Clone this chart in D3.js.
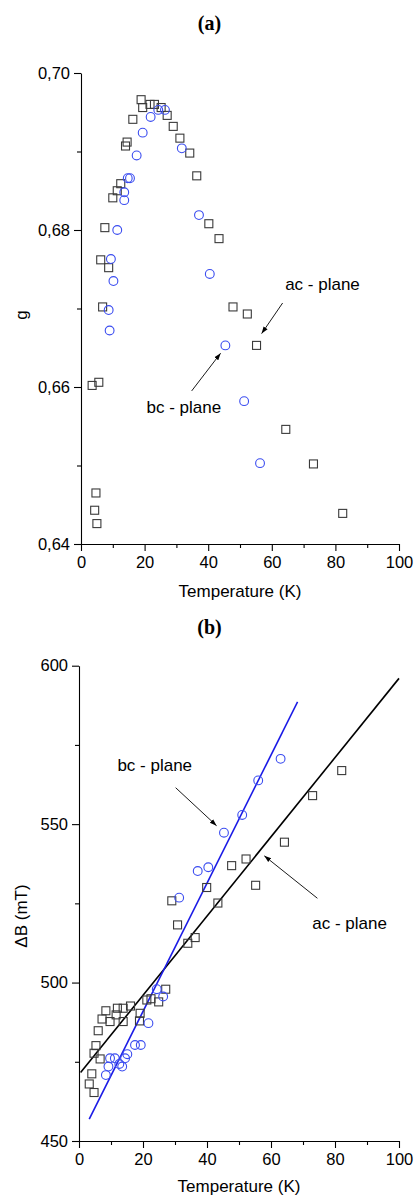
<!DOCTYPE html>
<html>
<head>
<meta charset="utf-8">
<script src="https://cdn.jsdelivr.net/npm/d3@7"></script>
<style>
  html, body { margin: 0; padding: 0; background: #fff; }
  svg { display: block; }
  text { fill: #000; }
</style>
</head>
<body>
<svg id="chart" width="416" height="1196"></svg>
<script>
// ---------- Panel (a): g vs Temperature ----------
const acTa = [18.9, 19.4, 21.7, 23.1, 25.2, 27.1, 16.3, 29.0, 31.1, 14.0, 14.5, 34.2, 36.4, 12.5, 11.4, 10.0, 7.5, 40.2, 43.4, 6.2, 8.7, 6.8, 47.8, 52.3, 55.2, 3.5, 5.6, 64.4, 73.1, 4.7, 4.3, 5.0, 82.3];
const acGa = [0.6966, 0.6956, 0.6960, 0.6960, 0.6956, 0.6946, 0.6941, 0.6932, 0.6917, 0.6907, 0.6912, 0.6898, 0.6869, 0.6859, 0.6850, 0.6841, 0.6803, 0.6808, 0.6789, 0.6762, 0.6752, 0.6702, 0.6702, 0.6693, 0.6653, 0.6602, 0.6606, 0.6546, 0.6502, 0.6465, 0.6443, 0.6426, 0.6439];
const bcTa = [24.3, 26.4, 21.9, 19.4, 17.5, 31.7, 14.7, 15.4, 13.6, 13.6, 11.4, 37.1, 40.5, 9.4, 10.2, 8.7, 9.0, 45.4, 51.3, 56.3];
const bcGa = [0.6953, 0.6953, 0.6944, 0.6924, 0.6895, 0.6904, 0.6866, 0.6866, 0.6848, 0.6838, 0.6800, 0.6819, 0.6744, 0.6763, 0.6735, 0.6698, 0.6672, 0.6653, 0.6582, 0.6503];
const xTicks = [0, 20, 40, 60, 80, 100];
const xMinor = [10, 30, 50, 70, 90];
const gTicks = [0.64, 0.66, 0.68, 0.70];
const gMinor = [0.65, 0.67, 0.69];

// ---------- Panel (b): ΔB vs Temperature ----------
const acTb = [82.1, 73.0, 64.2, 52.2, 47.7, 55.2, 39.9, 29.0, 43.4, 30.8, 36.3, 34.0, 27.1, 24.9, 22.5, 21.2, 19.1, 18.9, 16.1, 13.8, 12.0, 11.6, 13.8, 8.4, 9.7, 7.2, 6.0, 5.3, 4.7, 6.6, 4.0, 3.2, 4.7];
const acBb = [566.9, 559.0, 544.3, 539.0, 536.9, 530.7, 530.0, 525.8, 525.1, 518.2, 514.2, 512.4, 497.9, 493.9, 494.9, 494.5, 490.3, 487.9, 492.6, 491.9, 491.9, 489.8, 487.7, 491.1, 487.7, 488.5, 484.8, 480.1, 477.7, 475.9, 471.2, 468.0, 465.3];
const bcTb = [63.0, 56.0, 51.0, 45.3, 40.4, 37.1, 31.3, 24.3, 26.3, 21.7, 17.5, 19.3, 15.1, 14.4, 13.5, 11.2, 9.7, 9.2, 8.4, 12.6];
const bcBb = [570.6, 563.8, 552.9, 547.3, 536.4, 535.2, 526.8, 497.9, 495.6, 487.2, 480.3, 480.3, 477.4, 476.1, 473.5, 476.1, 476.1, 473.5, 470.8, 474.3];
const fitTac = [0.5, 100];
const fitBac = [471.6, 596.0];
const fitTbc = [3.2, 68.3];
const fitBbc = [456.9, 588.6];
const bTicks = [450, 500, 550, 600];
const bMinor = [475, 525, 575];

// annotations (data coordinates): label, text x, text y, arrow from x,y, arrow to x,y
const annA = [
  ["ac - plane", 64.2, 0.6724, 63.4, 0.6707, 56.8, 0.6668],
  ["bc - plane", 20.6, 0.6567, 34.8, 0.6595, 43.9, 0.6643]
];
const annB = [
  ["bc - plane", 12.0, 566.8, 30.2, 561.5, 43.0, 549.5],
  ["ac - plane", 72.9, 516.9, 74.5, 526.6, 57.9, 540.0]
];

const svg = d3.select("#chart");
const SQ = "#3a3a3a", CI = "#3a4cf0", BL = "#1a1ae6";
const SANS = "Arial, 'Liberation Sans', sans-serif";
const SERIF = "'Liberation Serif', 'Times New Roman', serif";

svg.append("defs").append("marker")
  .attr("id", "arr").attr("viewBox", "0 0 10 10")
  .attr("refX", 10).attr("refY", 5)
  .attr("markerWidth", 7).attr("markerHeight", 7)
  .attr("markerUnits", "userSpaceOnUse")
  .attr("orient", "auto")
  .append("path").attr("d", "M0,1.5 L10,5 L0,8.5 Z").attr("fill", "#000");

function drawPanel(o) {
  const g = svg.append("g");
  const x = d3.scaleLinear().domain([0, 100]).range(o.xr);
  const y = d3.scaleLinear().domain(o.yd).range(o.yr);

  // axes
  g.append("g").attr("transform", `translate(0,${o.yr[0]})`)
    .call(d3.axisBottom(x).tickValues(xTicks).tickSize(7).tickSizeOuter(0).tickPadding(5).tickFormat(d3.format("d")));
  g.append("g").attr("transform", `translate(0,${o.yr[0]})`)
    .call(d3.axisBottom(x).tickValues(xMinor).tickSize(4).tickSizeOuter(0).tickFormat(""))
    .select(".domain").remove();
  g.append("g").attr("transform", `translate(${o.xr[0]},0)`)
    .call(d3.axisLeft(y).tickValues(o.yt).tickSize(7).tickSizeOuter(0).tickPadding(4).tickFormat(o.fmt));
  g.append("g").attr("transform", `translate(${o.xr[0]},0)`)
    .call(d3.axisLeft(y).tickValues(o.ym).tickSize(4).tickSizeOuter(0).tickFormat(""))
    .select(".domain").remove();
  g.selectAll(".tick text").attr("font-size", 16.5).style("font-family", SANS).attr("fill", "#000");
  g.selectAll(".domain, .tick line").attr("stroke", "#000").attr("stroke-width", 1.1);

  // axis titles
  g.append("text").attr("x", (o.xr[0] + o.xr[1]) / 2).attr("y", o.yr[0] + o.xlOff)
    .attr("text-anchor", "middle").attr("font-size", 17).style("font-family", SANS).text("Temperature (K)");
  g.append("text").attr("transform", `translate(${o.ylx},${o.yly}) rotate(-90)`)
    .attr("text-anchor", "middle").attr("font-size", 17).style("font-family", SANS).text(o.ylabel);

  // panel title
  svg.append("text").attr("x", 209.5).attr("y", o.ty).attr("text-anchor", "middle")
    .style("font-family", SERIF)
    .attr("font-weight", "bold").attr("font-size", 20).text(o.title);

  // fit lines
  (o.lines || []).forEach(L => {
    g.append("path").datum(d3.zip(L.t, L.v))
      .attr("d", d3.line().x(d => x(d[0])).y(d => y(d[1])))
      .attr("fill", "none").attr("stroke", L.c).attr("stroke-width", 1.6);
  });

  // squares
  const s = 8;
  g.selectAll("rect.sq").data(d3.zip(o.sqT, o.sqV)).join("rect")
    .attr("class", "sq")
    .attr("x", d => x(d[0]) - s / 2).attr("y", d => y(d[1]) - s / 2)
    .attr("width", s).attr("height", s)
    .attr("fill", "none").attr("stroke", SQ).attr("stroke-width", 1.1);
  // circles
  g.selectAll("circle.ci").data(d3.zip(o.ciT, o.ciV)).join("circle")
    .attr("class", "ci")
    .attr("cx", d => x(d[0])).attr("cy", d => y(d[1])).attr("r", 4.4)
    .attr("fill", "none").attr("stroke", CI).attr("stroke-width", 1.1);

  // annotations
  o.ann.forEach(a => {
    g.append("text").attr("x", x(a[1])).attr("y", y(a[2])).attr("font-size", 17).style("font-family", SANS).text(a[0]);
    g.append("line").attr("x1", x(a[3])).attr("y1", y(a[4])).attr("x2", x(a[5])).attr("y2", y(a[6]))
      .attr("stroke", "#000").attr("stroke-width", 0.9).attr("marker-end", "url(#arr)");
  });
}

drawPanel({
  xr: [81, 399], yd: [0.64, 0.70], yr: [544, 73],
  yt: gTicks, ym: gMinor, fmt: d => d3.format(".2f")(d).replace(".", ","),
  ylabel: "g", ylx: 27, yly: 315, title: "(a)", ty: 30, xlOff: 53,
  sqT: acTa, sqV: acGa, ciT: bcTa, ciV: bcGa, ann: annA
});

drawPanel({
  xr: [79, 399], yd: [450, 600], yr: [1141, 665.7],
  yt: bTicks, ym: bMinor, fmt: d3.format("d"),
  ylabel: "\u0394B (mT)", ylx: 27, yly: 916, title: "(b)", ty: 634, xlOff: 51,
  sqT: acTb, sqV: acBb, ciT: bcTb, ciV: bcBb, ann: annB,
  lines: [{ t: fitTac, v: fitBac, c: "#000" }, { t: fitTbc, v: fitBbc, c: BL }]
});
</script>
</body>
</html>
